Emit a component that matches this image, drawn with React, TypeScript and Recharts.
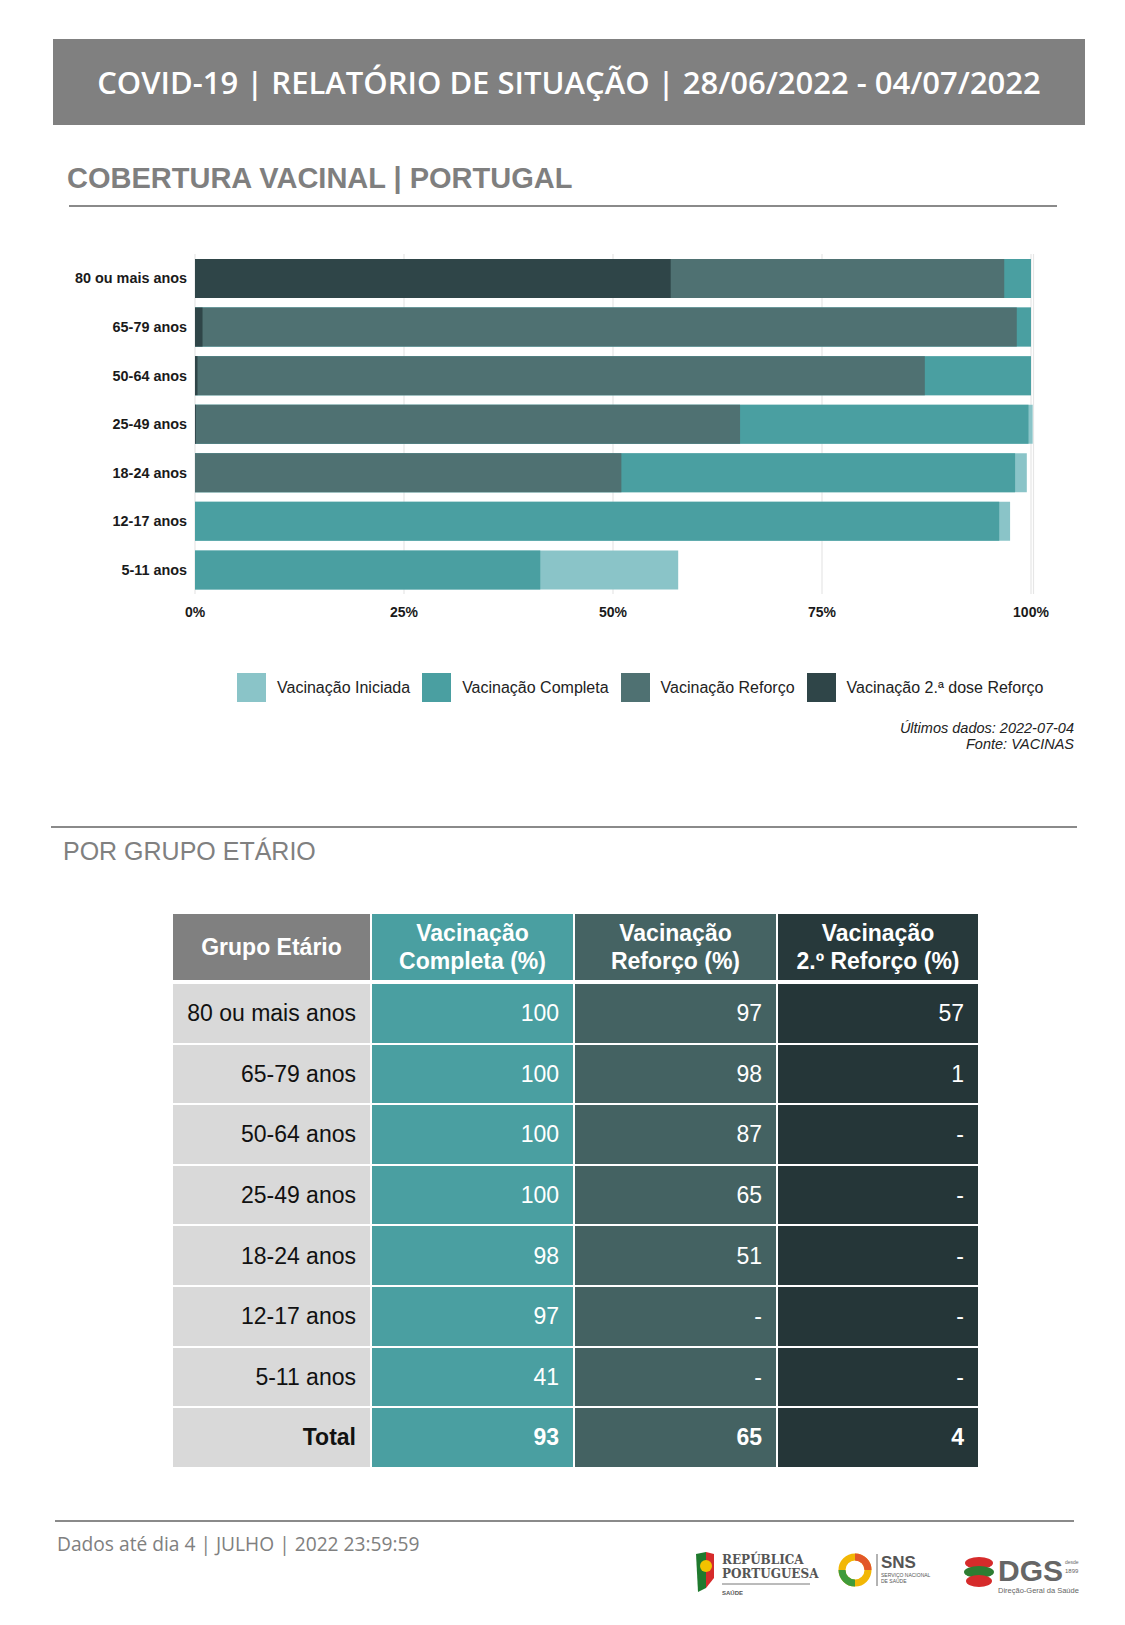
import React from "react";
import { BarChart, Bar, XAxis, YAxis, CartesianGrid } from "recharts";

// ---------- data ----------
const groups = ["80 ou mais anos", "65-79 anos", "50-64 anos", "25-49 anos", "18-24 anos", "12-17 anos", "5-11 anos"];
const iniciada = [100, 100, 100, 100.2, 99.5, 97.5, 57.8];
const completa = [100, 100, 100, 99.7, 98.1, 96.2, 41.3];
const reforco = [96.8, 98.3, 87.3, 65.2, 51.0, 0, 0];
const segundoReforco = [56.9, 0.9, 0.3, 0.1, 0, 0, 0];
const xTicks = [0, 25, 50, 75, 100];

const seriesNames = ["Vacinação Iniciada", "Vacinação Completa", "Vacinação Reforço", "Vacinação 2.ª dose Reforço"];
const seriesColors = ["#8AC4C8", "#4A9FA1", "#4F7172", "#2F4548"];

const tableHeaders = [["Grupo Etário"], ["Vacinação", "Completa (%)"], ["Vacinação", "Reforço (%)"], ["Vacinação", "2.º Reforço (%)"]];
const tableCompleta = ["100", "100", "100", "100", "98", "97", "41"];
const tableReforco = ["97", "98", "87", "65", "51", "-", "-"];
const tableSegundo = ["57", "1", "-", "-", "-", "-", "-"];
const totalLabel = "Total";
const totals = ["93", "65", "4"];

const chartData = groups.map((g, i) => ({
  group: g,
  iniciada: iniciada[i],
  completa: completa[i],
  reforco: reforco[i],
  segundo: segundoReforco[i],
}));

const headerColors = ["#808080", "#4A9FA1", "#456363", "#27393B"];
const cellColors = ["#D9D9D9", "#4A9FA1", "#446262", "#253638"];

const ARIAL = "'Liberation Sans', Arial, sans-serif";
const OPEN = "'Open Sans', sans-serif";

function Legend() {
  return (
    <div style={{ position: "absolute", left: 237, top: 673, height: 29, display: "flex", alignItems: "center", fontFamily: ARIAL, fontSize: 16, color: "#222", whiteSpace: "nowrap" }}>
      {seriesNames.map((n, i) => (
        <div key={n} style={{ display: "flex", alignItems: "center", marginRight: 12 }}>
          <div style={{ width: 29, height: 29, background: seriesColors[i], marginRight: 11 }} />
          <span>{n}</span>
        </div>
      ))}
    </div>
  );
}

function Table() {
  const colW = [197, 201, 201, 200];
  const rows = groups.map((g, i) => [g, tableCompleta[i], tableReforco[i], tableSegundo[i]]);
  rows.push([totalLabel, ...totals]);
  const rowH = 58.6;
  return (
    <div style={{ position: "absolute", left: 173, top: 914, fontFamily: ARIAL }}>
      <div style={{ display: "flex", gap: 2, marginBottom: 4 }}>
        {tableHeaders.map((h, c) => (
          <div key={c} style={{ width: colW[c], height: 66, background: headerColors[c], color: "#fff", fontWeight: 700, fontSize: 23, lineHeight: "28px", display: "flex", flexDirection: "column", alignItems: "center", justifyContent: "center", textAlign: "center" }}>
            {h.map((t) => (<div key={t}>{t}</div>))}
          </div>
        ))}
      </div>
      {rows.map((r, ri) => (
        <div key={ri} style={{ display: "flex", gap: 2, marginBottom: 2 }}>
          {r.map((v, c) => (
            <div key={c} style={{ width: colW[c], height: rowH, background: cellColors[c], color: c === 0 ? "#111" : "#fff", fontSize: 23, fontWeight: ri === rows.length - 1 ? 700 : 400, display: "flex", alignItems: "center", justifyContent: "flex-end", paddingRight: 14, paddingTop: 1, boxSizing: "border-box" }}>
              {v}
            </div>
          ))}
        </div>
      ))}
    </div>
  );
}

function Logos() {
  return (
    <svg style={{ position: "absolute", left: 690, top: 1548 }} width={400} height={54}>
      {/* República Portuguesa */}
      <path d="M6 6 L16 4 L16 40 L8 44 Z" fill="#1f7a2e" />
      <path d="M16 4 L24 6 L24 30 L16 40 Z" fill="#d62b2b" />
      <circle cx={16} cy={18} r={6} fill="#f2c200" />
      <text x={32} y={16} fontFamily="'DejaVu Serif', serif" fontWeight={700} fontSize={12} fill="#555">REPÚBLICA</text>
      <text x={32} y={30} fontFamily="'DejaVu Serif', serif" fontWeight={700} fontSize={12} fill="#555">PORTUGUESA</text>
      <line x1={32} y1={36} x2={120} y2={36} stroke="#777" strokeWidth={1} />
      <text x={32} y={47} fontFamily={ARIAL} fontWeight={700} fontSize={6} fill="#555">SAÚDE</text>
      {/* SNS */}
      <circle cx={165} cy={22} r={13} fill="none" stroke="#f2b705" strokeWidth={7} />
      <path d="M152 22 A13 13 0 0 0 165 35" fill="none" stroke="#3f9b3a" strokeWidth={7} />
      <path d="M165 9 A13 13 0 0 1 178 22" fill="none" stroke="#e2572a" strokeWidth={7} />
      <line x1={187} y1={6} x2={187} y2={38} stroke="#666" strokeWidth={1} />
      <text x={191} y={20} fontFamily={ARIAL} fontWeight={700} fontSize={17} fill="#555">SNS</text>
      <text x={191} y={29} fontFamily={ARIAL} fontSize={5} fill="#555">SERVIÇO NACIONAL</text>
      <text x={191} y={35} fontFamily={ARIAL} fontSize={5} fill="#555">DE SAÚDE</text>
      {/* DGS */}
      <ellipse cx={289} cy={15} rx={14} ry={6} fill="#d62b2b" />
      <ellipse cx={289} cy={24} rx={15} ry={6} fill="#2e7d32" />
      <ellipse cx={289} cy={33} rx={13} ry={6} fill="#d62b2b" />
      <text x={308} y={33} fontFamily={ARIAL} fontWeight={700} fontSize={30} fill="#666">DGS</text>
      <text x={375} y={16} fontFamily={ARIAL} fontSize={5} fill="#666">desde</text>
      <text x={375} y={25} fontFamily={ARIAL} fontSize={6} fill="#666">1899</text>
      <text x={308} y={45} fontFamily={ARIAL} fontSize={7.5} fill="#666">Direção-Geral da Saúde</text>
    </svg>
  );
}

export default function App() {
  return (
    <div style={{ position: "absolute", left: 0, top: 0, width: 1125, height: 1625, background: "#fff", overflow: "hidden" }}>
      {/* header */}
      <div style={{ position: "absolute", left: 53, top: 39, width: 1032, height: 86, background: "#808080", display: "flex", alignItems: "center", justifyContent: "center", color: "#fff", fontFamily: OPEN, fontWeight: 600, fontSize: 31, whiteSpace: "nowrap" }}>
        COVID-19 | RELATÓRIO DE SITUAÇÃO | 28/06/2022 - 04/07/2022
      </div>
      <div style={{ position: "absolute", left: 67, top: 160, fontFamily: ARIAL, fontWeight: 700, fontSize: 29, color: "#7f7f7f", lineHeight: "36px", whiteSpace: "nowrap" }}>
        COBERTURA VACINAL | PORTUGAL
      </div>
      <div style={{ position: "absolute", left: 69, top: 205, width: 988, height: 2, background: "#8a8a8a" }} />

      {/* chart */}
      <div style={{ position: "absolute", left: 0, top: 231 }}>
        <BarChart width={1125} height={400} data={chartData} layout="vertical" margin={{ top: 23, right: 91.5, left: 0, bottom: 0 }}>
          <CartesianGrid horizontal={false} vertical={true} stroke="#e6e6e6" strokeWidth={1.2} yAxisId="a" />
          <XAxis type="number" domain={[0, 100.3]} ticks={xTicks} allowDataOverflow={true} tickFormatter={(v) => `${v}%`} axisLine={false} tickLine={false} tickSize={0} tickMargin={13} height={37} tick={{ fontFamily: ARIAL, fontWeight: 700, fontSize: 14, fill: "#1a1a1a" }} interval={0} />
          <YAxis yAxisId="a" type="category" dataKey="group" width={195} axisLine={false} tickLine={false} tickSize={0} tickMargin={8} tick={{ fontFamily: ARIAL, fontWeight: 700, fontSize: 14.4, fill: "#1a1a1a" }} interval={0} />
          <YAxis yAxisId="b" type="category" dataKey="group" hide />
          <YAxis yAxisId="c" type="category" dataKey="group" hide />
          <YAxis yAxisId="d" type="category" dataKey="group" hide />
          <Bar yAxisId="a" dataKey="iniciada" fill={seriesColors[0]} barSize={39} isAnimationActive={false} />
          <Bar yAxisId="b" dataKey="completa" fill={seriesColors[1]} barSize={39} isAnimationActive={false} />
          <Bar yAxisId="c" dataKey="reforco" fill={seriesColors[2]} barSize={39} isAnimationActive={false} />
          <Bar yAxisId="d" dataKey="segundo" fill={seriesColors[3]} barSize={39} isAnimationActive={false} />
        </BarChart>
      </div>

      <Legend />
      <div style={{ position: "absolute", right: 1125 - 1074, top: 720, textAlign: "right", fontFamily: ARIAL, fontStyle: "italic", fontSize: 14.5, lineHeight: "16px", color: "#222", whiteSpace: "nowrap" }}>
        <div>Últimos dados: 2022-07-04</div>
        <div>Fonte: VACINAS</div>
      </div>

      <div style={{ position: "absolute", left: 51, top: 826, width: 1026, height: 2, background: "#8a8a8a" }} />
      <div style={{ position: "absolute", left: 63, top: 836, fontFamily: ARIAL, fontSize: 25, lineHeight: "30px", color: "#808080", whiteSpace: "nowrap" }}>
        POR GRUPO ETÁRIO
      </div>

      <Table />

      <div style={{ position: "absolute", left: 55, top: 1520, width: 1019, height: 2, background: "#8a8a8a" }} />
      <div style={{ position: "absolute", left: 57, top: 1530, fontFamily: OPEN, fontSize: 19.2, lineHeight: "28px", color: "#808080", whiteSpace: "nowrap" }}>
        Dados até dia 4 | JULHO | 2022 23:59:59
      </div>
      <Logos />
    </div>
  );
}
